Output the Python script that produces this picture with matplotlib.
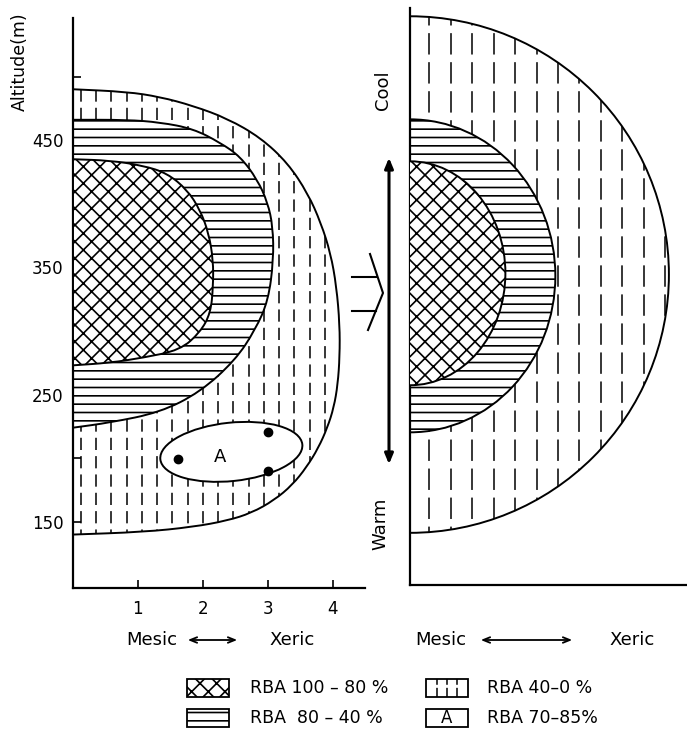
import numpy as np
import matplotlib
matplotlib.use('Agg')
import matplotlib.pyplot as plt
from matplotlib.path import Path
from matplotlib.patches import PathPatch, Ellipse, Rectangle, FancyArrowPatch
from matplotlib.lines import Line2D
import matplotlib.transforms as mtransforms

plt.rcParams['font.family'] = 'DejaVu Sans'
plt.rcParams['hatch.linewidth'] = 1.2

W, H = 687, 741

outer_x = [0, 0.83, 1.34, 1.85, 2.38, 2.89, 3.31, 3.62, 3.82, 3.97, 4.06, 4.11, 4.11, 4.08, 4.02, 3.92, 3.78,
           3.60, 3.38, 3.10, 2.75, 2.38, 1.85, 1.08, 0]
outer_y = [490, 488, 484, 477, 467, 452, 432, 408, 385, 361, 335, 305, 280, 258, 240, 224, 208,
           193, 179, 167, 157, 151, 146, 142, 140]

horiz_x = [0, 0.83, 1.34, 1.85, 2.27, 2.58, 2.84, 3.00, 3.08, 3.09, 3.01, 2.81, 2.50, 1.96, 1.34, 0.57, 0]
horiz_y = [466, 466, 464, 459, 448, 437, 419, 401, 382, 356, 324, 301, 277, 252, 236, 228, 224]

cross_x = [0, 0.57, 1.08, 1.45, 1.76, 1.96, 2.09, 2.16, 2.16, 2.12, 1.96, 1.65, 1.08, 0.57, 0]
cross_y = [435, 434, 430, 424, 411, 395, 377, 356, 335, 314, 299, 285, 279, 275, 273]

# zone A and the three plots in it
a_center = (2.44, 205)
a_size = (2.2, 0.9)     # width, height in x units
a_angle = 6
dot_x = [1.62, 3.0, 3.0]
dot_y = [199, 221, 190]

# right panel, idealised zones: (top, bottom, max extent)
right_zones = {
    'outer': (548, 142, 3.99),
    'horiz': (467, 221, 2.24),
    'cross': (434, 258, 1.47),
}

yticks = [150, 250, 350, 450]
yminor = [200, 300, 400, 500]
xticks = [1, 2, 3, 4]

legend_labels = ['RBA 100 \u2013 80 %', 'RBA 40\u20130 %', 'RBA  80 \u2013 40 %', 'RBA 70\u201385%']


def zone_path(xs, ys):
    # quadratic curves through the midpoints, closed along the y axis
    pts = list(zip(xs, ys))
    verts = [pts[0], ((pts[0][0] + pts[1][0]) / 2, (pts[0][1] + pts[1][1]) / 2)]
    codes = [Path.MOVETO, Path.LINETO]
    for i in range(1, len(pts) - 1):
        mid = ((pts[i][0] + pts[i + 1][0]) / 2, (pts[i][1] + pts[i + 1][1]) / 2)
        verts += [pts[i], mid]
        codes += [Path.CURVE3, Path.CURVE3]
    verts += [pts[-1], pts[0]]
    codes += [Path.LINETO, Path.CLOSEPOLY]
    return Path(verts, codes)


def dashes(ax, patch, x0, x1, step, y0, y1, z, pattern):
    xs = np.arange(x0, x1, step)
    lc = ax.vlines(xs, y0, y1, colors='k', linewidth=1.1, linestyles=(0, pattern), zorder=z)
    lc.set_clip_path(patch)


fig = plt.figure(figsize=(W / 100, H / 100), dpi=100)

# ---------------- left panel
ax = fig.add_axes([73 / W, (H - 588) / H, 292 / W, 570 / H])
ax.set_xlim(0, 4.5)
ax.set_ylim(98, 546)

p_out = PathPatch(zone_path(outer_x, outer_y), facecolor='white', edgecolor='k', lw=1.4, zorder=1)
ax.add_patch(p_out)
dashes(ax, p_out, 0.12, 4.5, 0.235, 120, 500, 1.5, (8, 4))
p_h = PathPatch(zone_path(horiz_x, horiz_y), facecolor='white', edgecolor='k', lw=1.4, hatch='--', zorder=2)
ax.add_patch(p_h)
p_c = PathPatch(zone_path(cross_x, cross_y), facecolor='white', edgecolor='k', lw=1.4, hatch='xx', zorder=3)
ax.add_patch(p_c)

sx = (292 / 4.5) / (570 / 448)
t = mtransforms.Affine2D().scale(1, sx).translate(*a_center) + ax.transData
ax.add_patch(Ellipse((0, 0), a_size[0], a_size[1], angle=a_angle, facecolor='white',
                     edgecolor='k', lw=1.4, transform=t, zorder=4))
ax.plot(dot_x, dot_y, 'o', color='k', ms=6, zorder=5)
ax.text(2.26, 201, 'A', fontsize=13, ha='center', va='center', zorder=5)

for s in ['top', 'right']:
    ax.spines[s].set_visible(False)
for s in ['left', 'bottom']:
    ax.spines[s].set_linewidth(1.6)
ax.set_yticks(yticks)
ax.set_yticks(yminor, minor=True)
ax.set_xticks(xticks)
ax.tick_params(direction='in', length=6, width=1.2, labelsize=12)
ax.tick_params(axis='y', pad=7)
ax.tick_params(axis='x', pad=9)
ax.tick_params(which='minor', direction='in', length=6, width=1.2)
fig.text(20 / W, 1 - 62 / H, 'Altitude(m)', rotation=90, fontsize=12.5, ha='center', va='center')

# ---------------- right panel
ax2 = fig.add_axes([410 / W, (H - 585) / H, 277 / W, 577 / H])
ax2.set_xlim(0, 277 / (292 / 4.5))
ax2.set_ylim(101, 101 + 577 / (570 / 448))
for s in ['top', 'right']:
    ax2.spines[s].set_visible(False)
for s in ['left', 'bottom']:
    ax2.spines[s].set_linewidth(1.6)
ax2.set_xticks([])
ax2.set_yticks([])

z = 1
for name, hatch in [('outer', None), ('horiz', '--'), ('cross', 'xx')]:
    top, bot, xm = right_zones[name]
    e = Ellipse((0, (top + bot) / 2), 2 * xm, top - bot, facecolor='white', edgecolor='k',
                lw=1.4, hatch=hatch, zorder=z)
    ax2.add_patch(e)
    if name == 'outer':
        dashes(ax2, e, 0.3, 4.3, 0.33, 130, 560, 1.5, (14, 5))
    z += 1


# ---------------- middle arrows and labels
def fig_line(xs, ys, lw=1.5):
    fig.add_artist(Line2D([x / W for x in xs], [1 - y / H for y in ys], color='k', lw=lw))


fig_line([352, 376], [277, 277])
fig_line([352, 376], [311, 311])
fig_line([370, 383, 368], [254, 293, 330])

fig.add_artist(FancyArrowPatch((389 / W, 1 - 155 / H), (389 / W, 1 - 467 / H),
               transform=fig.transFigure, arrowstyle='<|-|>,head_length=6,head_width=2.5',
               color='k', lw=2.2))
fig.text(383 / W, 1 - 90 / H, 'Cool', rotation=90, fontsize=13, ha='center', va='center')
fig.text(380 / W, 1 - 524 / H, 'Warm', rotation=90, fontsize=13, ha='center', va='center')

for (mx, a0, a1, xx) in [(152, 185, 240, 292), (441, 478, 575, 632)]:
    fig.text(mx / W, 1 - 640 / H, 'Mesic', fontsize=13, ha='center', va='center')
    fig.text(xx / W, 1 - 640 / H, 'Xeric', fontsize=13, ha='center', va='center')
    fig.add_artist(FancyArrowPatch((a0 / W, 1 - 640 / H), (a1 / W, 1 - 640 / H),
                   transform=fig.transFigure, arrowstyle='<->,head_length=5,head_width=2',
                   color='k', lw=1.3))

# ---------------- legend
rows = [688, 718]
box_x = [187, 426]
txt_x = [250, 487]
items = [('x', 0, 0), ('dash', 0, 1), ('-', 1, 0), ('A', 1, 1)]
for i, (kind, r, c) in enumerate(items):
    x0 = box_x[c] / W
    y0 = 1 - (rows[r] + 9) / H
    bw, bh = 42 / W, 18 / H
    hatch = {'x': 'xx', '-': '--'}.get(kind)
    fig.add_artist(Rectangle((x0, y0), bw, bh, transform=fig.transFigure, facecolor='white',
                             edgecolor='k', lw=1.3, hatch=hatch))
    if kind == 'dash':
        for f in [0.25, 0.5, 0.75]:
            fig.add_artist(Line2D([x0 + f * bw] * 2, [y0, y0 + bh], color='k', lw=1.1,
                                  linestyle=(0, (6, 2))))
    if kind == 'A':
        fig.text(x0 + bw / 2, y0 + bh / 2, 'A', fontsize=12, ha='center', va='center')
    fig.text(txt_x[c] / W, 1 - rows[r] / H, legend_labels[i], fontsize=12.5, ha='left', va='center')

fig.savefig('out.png', dpi=100)
